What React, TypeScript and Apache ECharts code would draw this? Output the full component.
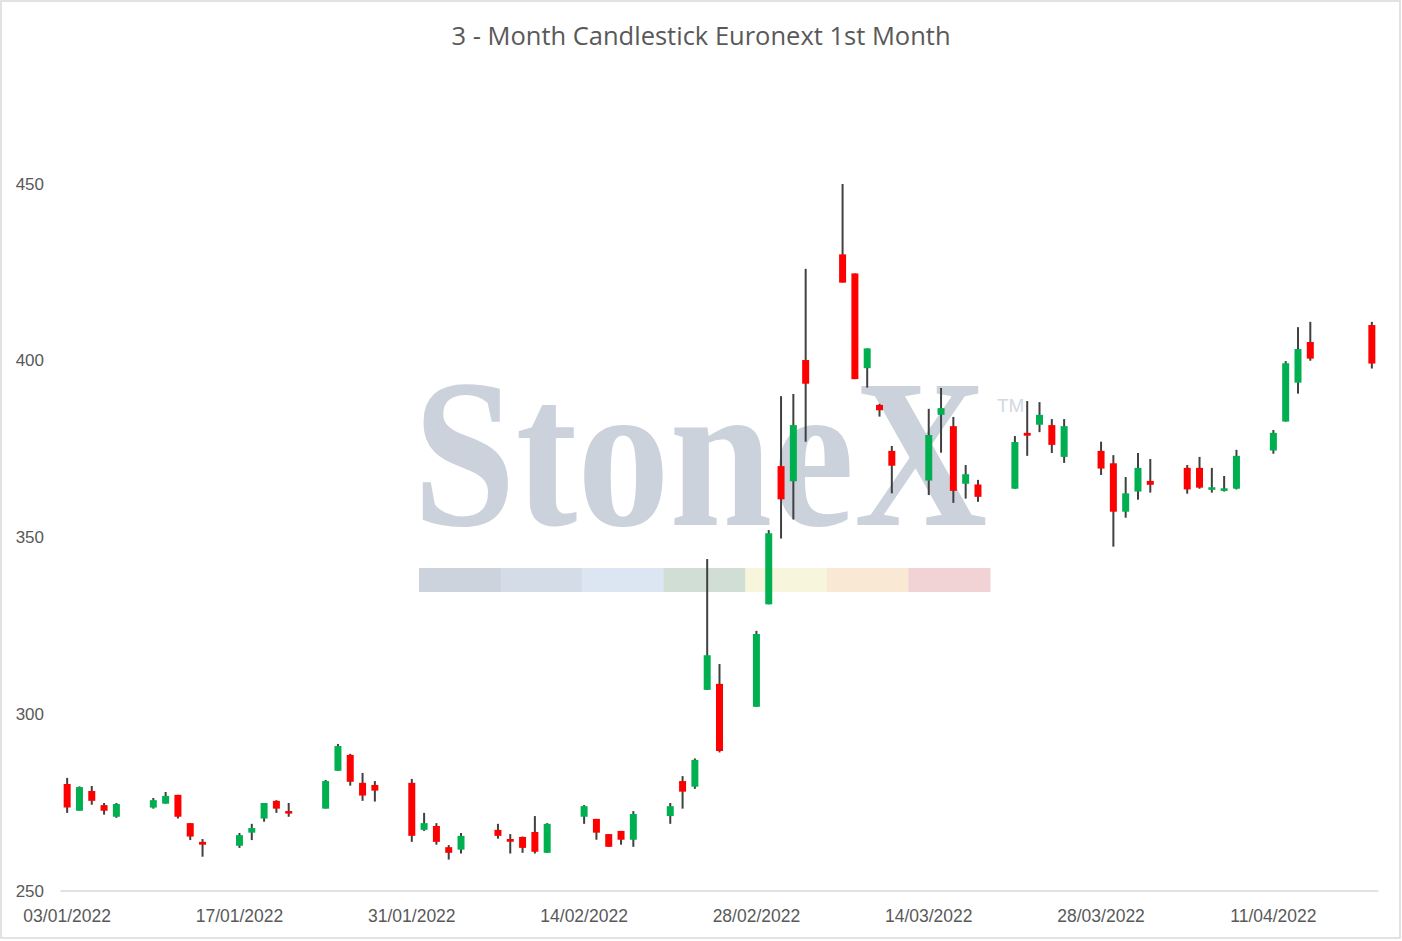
import React, { useEffect, useRef } from "react";
import * as echarts from "echarts";

// Trading days (dd/mm/yyyy) and OHLC values
const tradeDates = [
  "03/01/2022", "04/01/2022", "05/01/2022", "06/01/2022", "07/01/2022",
  "10/01/2022", "11/01/2022", "12/01/2022", "13/01/2022", "14/01/2022",
  "17/01/2022", "18/01/2022", "19/01/2022", "20/01/2022", "21/01/2022",
  "24/01/2022", "25/01/2022", "26/01/2022", "27/01/2022", "28/01/2022",
  "31/01/2022", "01/02/2022", "02/02/2022", "03/02/2022", "04/02/2022",
  "07/02/2022", "08/02/2022", "09/02/2022", "10/02/2022", "11/02/2022",
  "14/02/2022", "15/02/2022", "16/02/2022", "17/02/2022", "18/02/2022",
  "21/02/2022", "22/02/2022", "23/02/2022", "24/02/2022", "25/02/2022",
  "28/02/2022", "01/03/2022", "02/03/2022", "03/03/2022", "04/03/2022",
  "07/03/2022", "08/03/2022", "09/03/2022", "10/03/2022", "11/03/2022",
  "14/03/2022", "15/03/2022", "16/03/2022", "17/03/2022", "18/03/2022",
  "21/03/2022", "22/03/2022", "23/03/2022", "24/03/2022", "25/03/2022",
  "28/03/2022", "29/03/2022", "30/03/2022", "31/03/2022", "01/04/2022",
  "04/04/2022", "05/04/2022", "06/04/2022", "07/04/2022", "08/04/2022",
  "11/04/2022", "12/04/2022", "13/04/2022", "14/04/2022", "19/04/2022",
];

const opens = [
  280.3, 272.7, 278.3, 274.3, 271.0,
  273.6, 274.7, 277.2, 269.2, 263.9,
  262.8, 266.5, 270.5, 275.5, 272.6,
  273.3, 284.0, 288.5, 280.6, 280.0,
  280.6, 267.3, 268.4, 262.4, 261.7,
  267.3, 264.7, 265.3, 266.7, 260.8,
  271.0, 270.4, 266.1, 267.0, 264.5,
  271.2, 281.1, 279.5, 306.9, 308.6,
  302.1, 331.1, 370.2, 365.9, 400.2,
  430.1, 424.7, 397.9, 387.5, 374.5,
  366.1, 384.7, 381.5, 365.2, 365.0,
  363.8, 379.6, 381.9, 381.8, 372.8,
  374.5, 371.0, 357.3, 363.0, 366.0,
  369.7, 369.7, 363.5, 363.2, 363.8,
  374.6, 382.8, 393.8, 405.3, 410.1,
];

const closes = [
  273.6, 279.4, 275.5, 272.7, 274.6,
  275.7, 276.9, 271.0, 265.4, 263.1,
  265.8, 267.8, 274.9, 273.3, 271.9,
  281.1, 291.0, 280.9, 277.0, 278.4,
  265.6, 269.2, 263.9, 260.8, 265.6,
  265.6, 263.9, 262.2, 261.1, 269.0,
  274.0, 266.5, 262.5, 264.5, 271.8,
  274.0, 278.1, 287.1, 316.7, 289.6,
  322.7, 351.2, 360.8, 381.8, 393.5,
  422.1, 394.8, 403.5, 386.0, 370.3,
  379.0, 386.6, 363.2, 367.9, 361.5,
  377.0, 378.8, 384.7, 376.2, 381.5,
  369.5, 357.3, 362.5, 369.7, 364.9,
  363.6, 364.1, 364.2, 363.9, 373.1,
  379.6, 399.3, 403.3, 400.6, 399.2,
];

const lows = [
  272.1, 272.7, 274.4, 271.6, 270.7,
  273.3, 274.7, 270.5, 264.4, 259.7,
  262.2, 264.4, 269.6, 272.1, 271.0,
  273.3, 284.0, 279.8, 275.5, 275.3,
  263.9, 267.0, 263.1, 258.9, 260.6,
  264.8, 260.6, 260.8, 260.6, 260.8,
  269.0, 264.5, 262.5, 263.1, 262.5,
  269.0, 273.3, 278.9, 306.9, 289.2,
  302.1, 331.1, 349.7, 355.1, 377.1,
  422.1, 394.8, 392.4, 384.2, 362.5,
  362.0, 374.0, 359.8, 361.0, 360.1,
  363.8, 373.1, 379.8, 373.9, 371.1,
  367.7, 347.4, 355.6, 360.7, 362.7,
  362.4, 363.8, 362.7, 363.0, 363.6,
  373.7, 382.8, 390.7, 400.0, 397.8,
];

const highs = [
  282.0, 279.6, 279.7, 274.9, 274.9,
  276.3, 278.0, 277.2, 269.2, 264.7,
  266.4, 269.0, 274.9, 275.7, 274.9,
  281.4, 291.6, 288.8, 283.4, 281.1,
  281.7, 272.1, 269.2, 263.0, 266.4,
  269.0, 266.1, 265.4, 271.2, 269.2,
  274.3, 270.4, 266.1, 267.0, 272.6,
  274.9, 282.5, 287.5, 343.9, 314.2,
  323.6, 352.1, 390.0, 390.6, 426.0,
  450.0, 424.7, 403.5, 387.8, 375.9,
  386.4, 392.3, 384.1, 370.5, 366.3,
  378.7, 388.6, 388.3, 383.5, 383.5,
  377.1, 373.3, 367.1, 373.9, 372.2,
  370.5, 372.8, 369.7, 367.4, 374.8,
  380.4, 399.9, 409.5, 411.0, 411.0,
];

const yTicks = [250, 300, 350, 400, 450];
const titleText = "3 - Month Candlestick Euronext 1st Month";
const stripColors = ["#cdd3dc", "#d3dce7", "#dbe6f2", "#d0ded6", "#f8f5dd", "#f9e9d4", "#f1d2d5"];

// Calendar (date axis) from first to last trading day
function buildCalendar(first: string, last: string): string[] {
  const parse = (s: string) => {
    const [d, m, y] = s.split("/").map(Number);
    return Date.UTC(y, m - 1, d);
  };
  const out: string[] = [];
  const end = parse(last);
  for (let t = parse(first); t <= end; t += 86400000) {
    const dt = new Date(t);
    const dd = String(dt.getUTCDate()).padStart(2, "0");
    const mm = String(dt.getUTCMonth() + 1).padStart(2, "0");
    out.push(`${dd}/${mm}/${dt.getUTCFullYear()}`);
  }
  return out;
}

const categories = buildCalendar(tradeDates[0], tradeDates[tradeDates.length - 1]);

export default function App() {
  const ref = useRef<HTMLDivElement>(null);

  useEffect(() => {
    document.body.style.margin = "0";
    if (!ref.current) return;
    const chart = echarts.init(ref.current, undefined, { renderer: "svg" });

    const data = tradeDates.map((d, i) => [d, opens[i], closes[i], lows[i], highs[i]]);

    const stripX = 419;
    const stripW = (990 - 419) / stripColors.length;

    const graphics: any[] = [
      {
        type: "rect",
        z: 0,
        silent: true,
        shape: { x: 1, y: 1, width: 1399, height: 937 },
        style: { fill: "none", stroke: "#d9d9d9", lineWidth: 1.5 },
      },
      {
        type: "text",
        z: 0,
        silent: true,
        x: 413,
        y: 454,
        scaleX: 0.875,
        style: {
          text: "StoneX",
          font: 'bold 211px "Liberation Serif"',
          fill: "#cbd2dc",
          verticalAlign: "middle",
          align: "left",
        },
      },
      {
        type: "text",
        z: 0,
        silent: true,
        x: 997,
        y: 405,
        style: {
          text: "TM",
          font: '19px "Liberation Sans"',
          fill: "#d2d9e1",
          verticalAlign: "middle",
          align: "left",
        },
      },
      ...stripColors.map((c, i) => ({
        type: "rect",
        z: 0,
        silent: true,
        shape: { x: stripX + i * stripW, y: 568, width: stripW + 0.5, height: 24 },
        style: { fill: c },
      })),
    ];

    chart.setOption({
      animation: false,
      backgroundColor: "#ffffff",
      title: {
        text: titleText,
        left: "center",
        top: 17,
        textStyle: {
          fontFamily: "Open Sans",
          fontSize: 25.5,
          fontWeight: "normal",
          color: "#595959",
        },
      },
      graphic: { elements: graphics },
      grid: { left: 61, right: 24, top: 184, bottom: 50, containLabel: false },
      xAxis: {
        type: "category",
        data: categories,
        boundaryGap: true,
        axisLine: { show: true, lineStyle: { color: "#d9d9d9", width: 1.5 } },
        axisTick: { show: false },
        splitLine: { show: false },
        axisLabel: {
          interval: 13,
          margin: 16,
          fontFamily: "Liberation Sans",
          fontSize: 17.5,
          color: "#595959",
        },
      },
      yAxis: {
        type: "value",
        min: yTicks[0],
        max: yTicks[yTicks.length - 1],
        interval: 50,
        axisLine: { show: false },
        axisTick: { show: false },
        splitLine: { show: false },
        axisLabel: {
          margin: 17,
          fontFamily: "Liberation Sans",
          fontSize: 17,
          color: "#595959",
        },
      },
      series: [
        {
          type: "custom",
          z: 5,
          clip: false,
          encode: { x: 0, y: [1, 2, 3, 4] },
          data,
          renderItem: (params: any, api: any) => {
            const xi = api.value(0);
            const o = api.value(1);
            const c = api.value(2);
            const l = api.value(3);
            const h = api.value(4);
            const pO = api.coord([xi, o]);
            const pC = api.coord([xi, c]);
            const pL = api.coord([xi, l]);
            const pH = api.coord([xi, h]);
            const w = 7;
            let top = Math.min(pO[1], pC[1]);
            let bh = Math.abs(pO[1] - pC[1]);
            if (bh < 2.6) {
              top = (pO[1] + pC[1]) / 2 - 1.3;
              bh = 2.6;
            }
            return {
              type: "group",
              children: [
                {
                  type: "line",
                  shape: { x1: pH[0], y1: pH[1], x2: pL[0], y2: pL[1] },
                  style: { stroke: "#404040", lineWidth: 2 },
                },
                {
                  type: "rect",
                  shape: { x: pO[0] - w / 2, y: top, width: w, height: bh },
                  style: { fill: c >= o ? "#00B050" : "#FF0000" },
                },
              ],
            };
          },
        },
      ],
    });

    return () => chart.dispose();
  }, []);

  return <div ref={ref} style={{ width: 1402, height: 941 }} />;
}
